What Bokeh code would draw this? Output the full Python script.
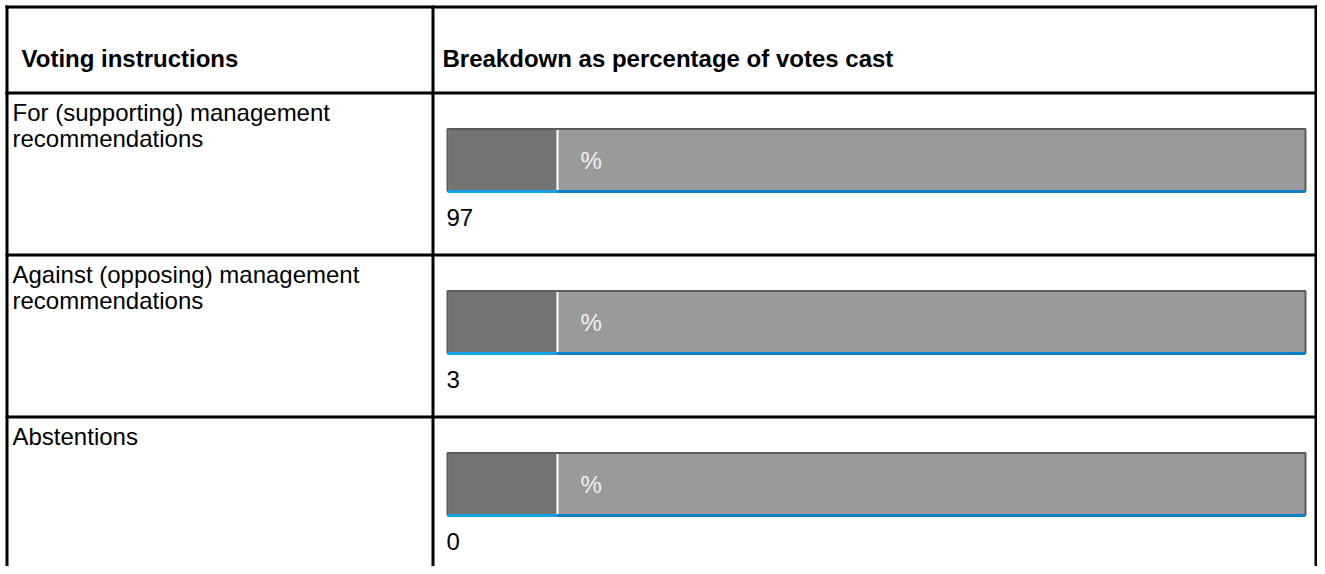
from bokeh.plotting import figure
from bokeh.models import Range1d, ColumnDataSource
from bokeh.core.properties import value
from bokeh.embed import file_html
from bokeh.resources import INLINE

# ---------------- data ----------------
headers = ["Voting instructions", "Breakdown as percentage of votes cast"]
category_lines = [
    ["For (supporting) management", "recommendations"],
    ["Against (opposing) management", "recommendations"],
    ["Abstentions"],
]
values = [97, 3, 0]
unit_label = "%"

# ---------------- layout (pixels) ----------------
W, H = 1317, 566

FONT = "Liberation Sans"
TABLE_L, COL_X, TABLE_R = 6.5, 432.5, W - 1.5
TABLE_T, HEAD_B, ROW_H = 6.5, 92.5, 162
BAR_L, BAR_R, DARK_R = 447, 1305, 556
BAR_DY, BAR_H = 36, 62
LINE_W = 3

n = len(values)
row_tops = [HEAD_B + i * ROW_H for i in range(n)]
bar_tops = [t + BAR_DY for t in row_tops]
bar_bots = [t + BAR_H for t in bar_tops]

p = figure(width=W, height=H, x_range=Range1d(0, W), y_range=Range1d(H, 0),
           output_backend="svg", toolbar_location=None, min_border=0)
p.axis.visible = False
p.grid.visible = False
p.outline_line_color = None
p.background_fill_color = "white"
p.border_fill_color = "white"

# ---------------- table rules ----------------
h_ys = [TABLE_T, HEAD_B] + row_tops[1:]
p.segment(x0=[TABLE_L - 1.5] * len(h_ys), x1=[TABLE_R + 1.5] * len(h_ys),
          y0=h_ys, y1=h_ys, line_color="black", line_width=LINE_W)
v_xs = [TABLE_L, COL_X, TABLE_R]
p.segment(x0=v_xs, x1=v_xs, y0=[TABLE_T - 1.5] * 3, y1=[H + 10] * 3,
          line_color="black", line_width=LINE_W)

# ---------------- bars ----------------
bar_src = ColumnDataSource(dict(
    left=[BAR_L] * n, right=[BAR_R] * n, dark_r=[DARK_R] * n,
    top=bar_tops, bottom=bar_bots,
    blue=[b + 0.5 for b in bar_bots],
))
p.quad(left="left", right="right", top="top", bottom="bottom", source=bar_src,
       fill_color="#9a9a9a", line_color="#5b5b5b", line_width=2)
p.quad(left=[BAR_L + 1] * n, right=[DARK_R] * n,
       top=[t + 1 for t in bar_tops], bottom=bar_bots,
       fill_color="#727272", line_color=None)
p.segment(x0=[DARK_R + 1] * n, x1=[DARK_R + 1] * n,
          y0=[t + 1 for t in bar_tops], y1=bar_bots,
          line_color="white", line_width=2)
p.segment(x0="left", x1="dark_r", y0="blue", y1="blue", source=bar_src,
          line_color="#12a3e6", line_width=3)
p.segment(x0="dark_r", x1="right", y0="blue", y1="blue", source=bar_src,
          line_color="#0b80c4", line_width=3)

# unit label inside bars
p.text(x=[580] * n, y=[(t + b) / 2 for t, b in zip(bar_tops, bar_bots)],
       text=[unit_label] * n, text_font=value(FONT), text_font_size="24px",
       text_color="#f2f2f2", text_baseline="middle", text_align="left")

# values below bars
p.text(x=[446] * n, y=[t + 88.5 for t in bar_tops],
       text=[str(v) for v in values], text_font=value(FONT), text_font_size="24px",
       text_color="#000000", text_baseline="alphabetic", text_align="left")

# ---------------- header ----------------
p.text(x=[21, 442], y=[58] * 2, text=headers, text_font=value(FONT),
       text_font_size="24px", text_font_style="bold", text_color="#000000",
       text_baseline="alphabetic", text_align="left")

# ---------------- category labels ----------------
lx, ly, lt = [], [], []
for top, lines in zip(row_tops, category_lines):
    for j, line in enumerate(lines):
        lx.append(12)
        ly.append(top + 19 + j * 26.5)
        lt.append(line)
p.text(x=lx, y=ly, text=lt, text_font=value(FONT), text_font_size="24px",
       text_color="#000000", text_baseline="alphabetic", text_align="left")

open("out.html", "w").write(file_html(p, INLINE))
